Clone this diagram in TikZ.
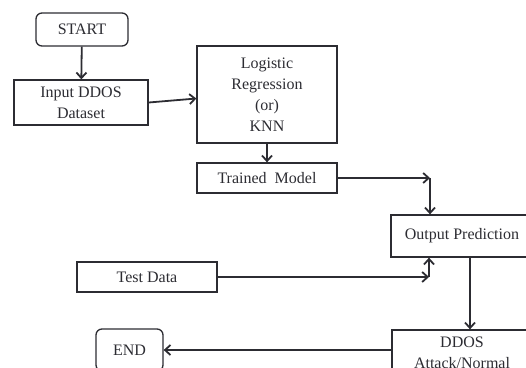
\documentclass[tikz,border=0pt]{standalone}
\usepackage{fontspec}
\setmainfont{Liberation Serif}
\usetikzlibrary{arrows.meta}
\definecolor{ink}{HTML}{2c2c32}
\tikzset{
  box/.style={draw=ink, line width=1.3pt, rectangle, align=center, inner sep=2pt,
              text=ink, font=\fontsize{16}{21}\selectfont},
  roundbox/.style={box, rounded corners=6pt},
  flow/.style={draw=ink, line width=1.8pt, -{Straight Barb[length=5.5pt,width=10pt,line width=1.8pt]}}
}
\begin{document}
\begin{tikzpicture}[x=1pt,y=-1pt]
\useasboundingbox (0,0) rectangle (526,367);
\begin{scope}
\clip (0,0) rectangle (526,367);
% process boxes
\node[roundbox, minimum width=92, minimum height=33] (start) at (82,29.5) {START};
\node[box, minimum width=134, minimum height=45] (input) at (81,102.5) {Input DDOS\\Dataset};
\node[box, minimum width=140, minimum height=97] (lr) at (267,94.5) {Logistic\\Regression\\(or)\\KNN};
\node[box, minimum width=140, minimum height=30] (trained) at (267,178) {Trained\ \ Model};
\node[box, minimum width=142, minimum height=42] (output) at (462,236) {Output Prediction};
\node[box, minimum width=140, minimum height=30] (test) at (147,277) {Test Data};
\node[box, minimum width=140, minimum height=46] (ddos) at (462,353) {DDOS\\Attack/Normal};
\node[roundbox, minimum width=67, minimum height=42] (end) at (129.5,350) {END};
% elbow points
\coordinate (c1) at (430,178);
\coordinate (c2) at (429,277);
% connectors
\draw[flow] (start) -- (input);
\draw[flow] (input.east) -- ([yshift=-4pt]lr.west);
\draw[flow] (lr) -- (trained);
\draw[flow] (trained.east) -- (c1);
\draw[flow] (c1) -- (c1 |- output.north);
\draw[flow] (test.east) -- (c2);
\draw[flow] (c2) -- (c2 |- output.south);
\draw[flow] ([xshift=8pt]output.south) -- ([xshift=8pt]ddos.north);
\draw[flow] (ddos.west |- end.east) -- (end.east);
\end{scope}
\end{tikzpicture}
\end{document}
